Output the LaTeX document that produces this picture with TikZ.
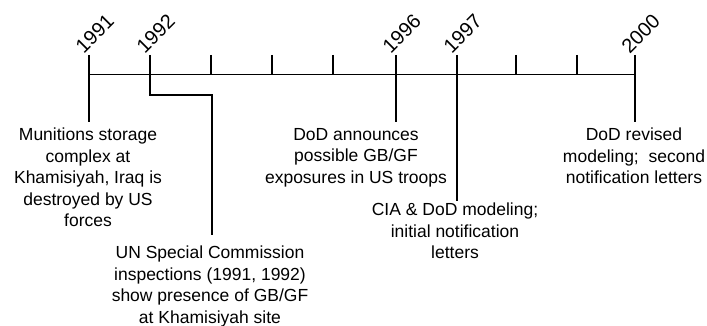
\documentclass[tikz,border=0pt]{standalone}
\usepackage{fontspec}
\setmainfont{Liberation Sans}
\usepackage{tikz}

\begin{document}
\begin{tikzpicture}[x=1pt,y=-1pt,
		yr/.style={rotate=45,anchor=south west,inner sep=0pt,font=\fontsize{20}{24}\selectfont},
		evt/.style={anchor=north,align=center,inner sep=0pt,font=\fontsize{17.5}{21.5}\selectfont},
		tk/.style={line width=1.6pt}]
	\useasboundingbox (0,0) rectangle (707,326);
	
	% Fixed coordinates
	\coordinate (s) at (89,75);
	\coordinate (e) at (635,75);
	\draw[line width=1pt] (s) -- (e);
	
	% Ticks and years
	\foreach \n/\x in {1993/211,1994/272,1995/333,1998/516,1999/577}
		\draw[tk] (\x,55) -- (\x,75);
	\foreach \n/\x in {1991/89,1992/150,1996/396,1997/457,2000/635}{
		\coordinate (y\n) at (\x,55);
		\node[yr] (l\n) at ([xshift=-5pt]y\n) {\n};
	}
	
	% Event texts
	\node[evt] (ev1) at (88,128) {Munitions storage\\complex at\\Khamisiyah, Iraq is\\destroyed by US\\forces};
	\node[evt] (ev2) at (210,246) {UN Special Commission\\inspections (1991, 1992)\\show presence of GB/GF\\at Khamisiyah site};
	\node[evt] (ev3) at (356,128) {DoD announces\\possible GB/GF\\exposures in US troops};
	\node[evt] (ev4) at (455,203) {CIA \& DoD modeling;\\initial notification\\letters};
	\node[evt] (ev5) at (634,128) {DoD revised\\modeling;\ \ second\\notification letters};
	
	% Connector ends
	\coordinate (f1991) at (89,122);
	\coordinate (k1992) at (212,95);
	\coordinate (f1992) at (212,235);
	\coordinate (f1996) at (396,122);
	\coordinate (f1997) at (457,201);
	\coordinate (f2000) at (635,122);
	
	\draw[tk] (y1991) -- (f1991);
	\draw[tk] (y1992) |- (k1992) -- (f1992);
	\draw[tk] (y1996) -- (f1996);
	\draw[tk] (y1997) -- (f1997);
	\draw[tk] (y2000) -- (f2000);
\end{tikzpicture}
\end{document}
